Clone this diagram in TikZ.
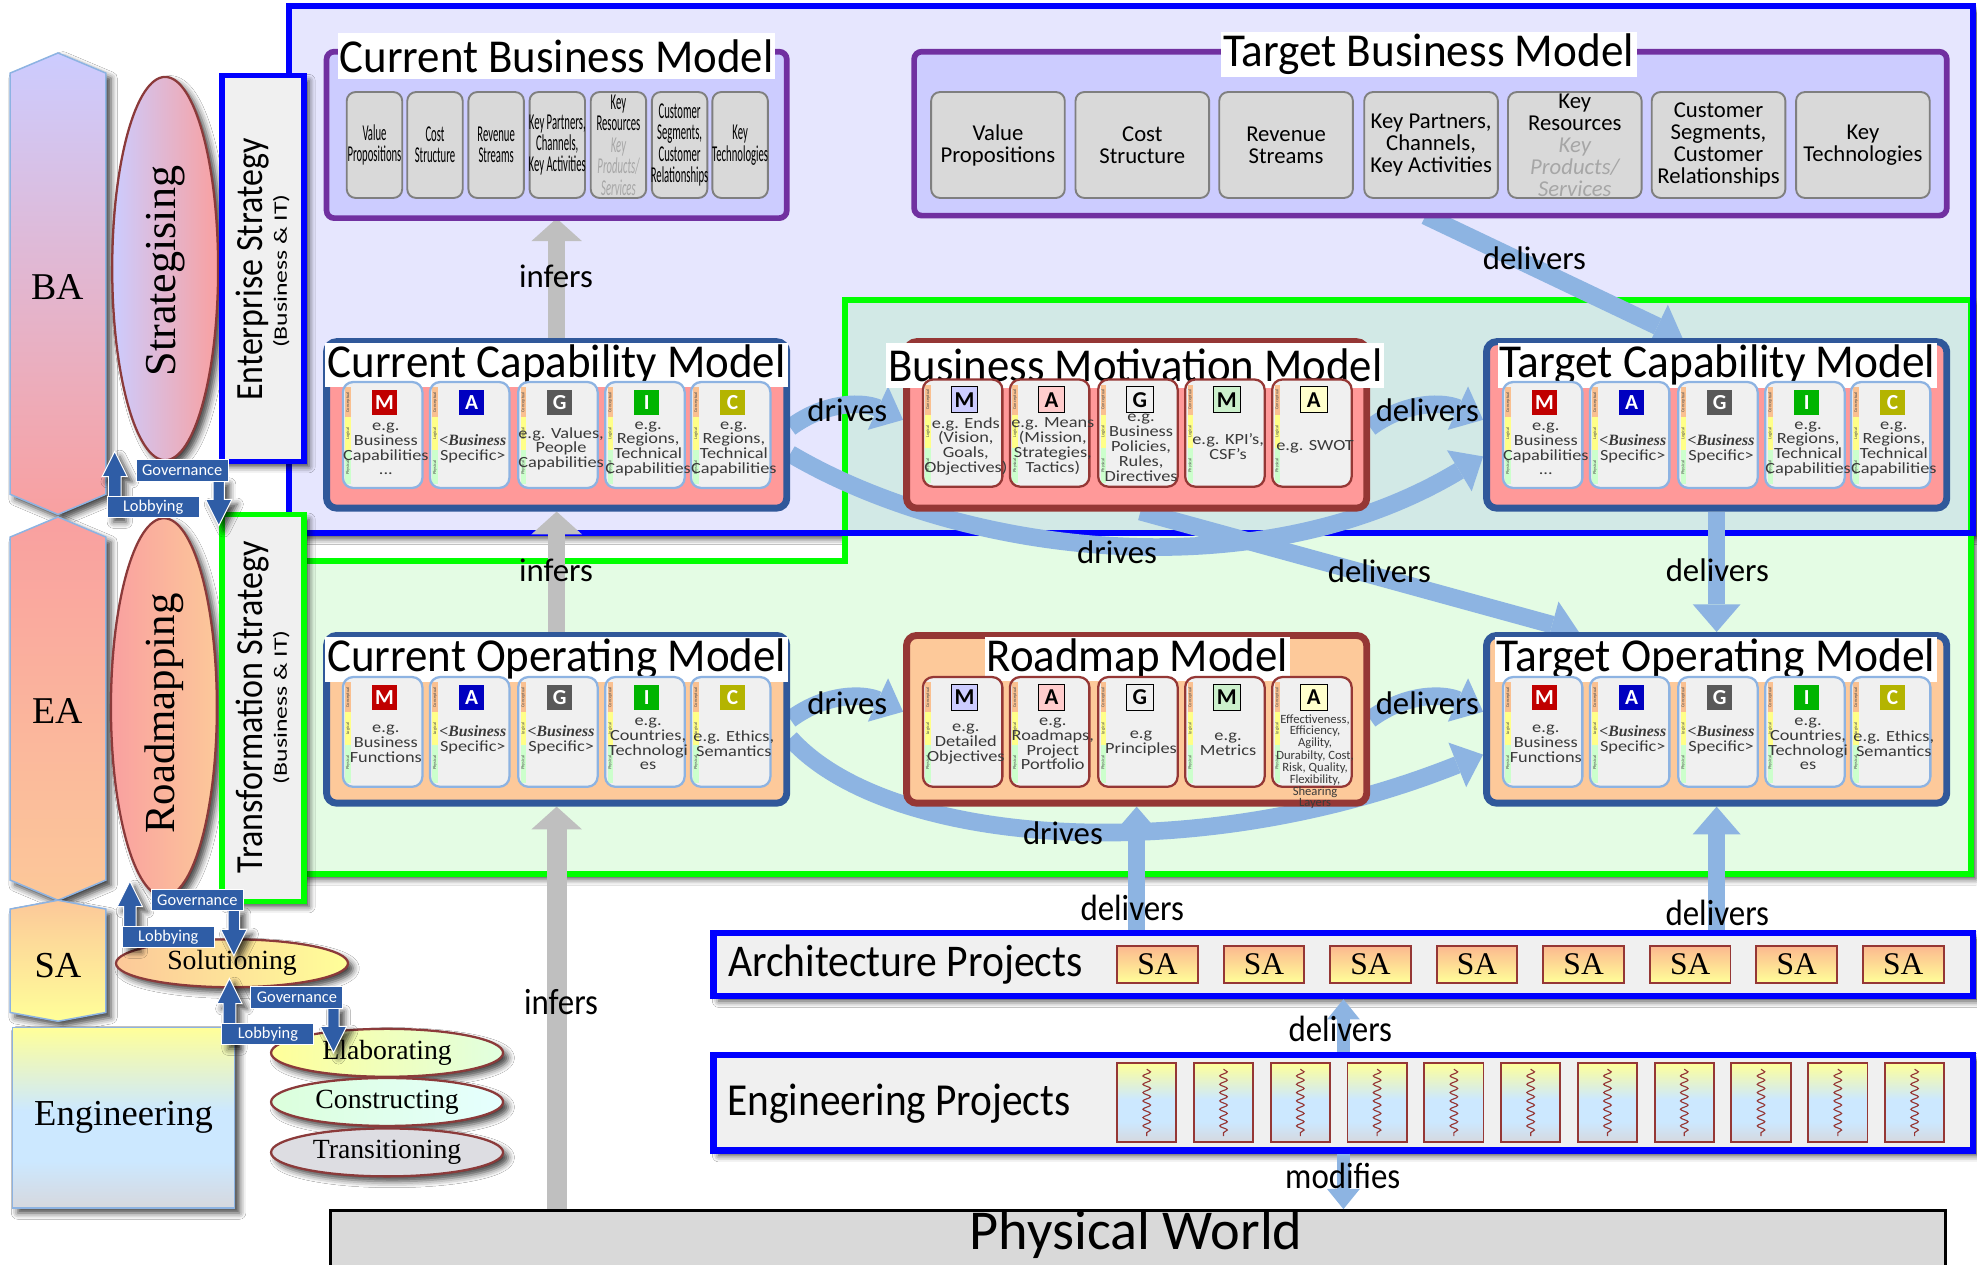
\documentclass[tikz,border=0pt]{standalone}
\usepackage{fontspec}
\usepackage{graphicx}
\setmainfont{Liberation Serif}
\newfontfamily\sansf{Carlito}
\newfontfamily\cardf[FakeStretch=1.18]{Carlito}
\newfontfamily\narrowf[FakeStretch=0.47]{Carlito}
\newfontfamily\labf[FakeStretch=0.9]{Carlito}
\usetikzlibrary{arrows.meta,shadows.blur,decorations.pathmorphing,shapes.geometric,calc}

\definecolor{lavBg}{HTML}{E6E6FE}
\definecolor{grnBg}{HTML}{E4FCE4}
\definecolor{mixBg}{HTML}{D2E9E6}
\definecolor{frameBlue}{HTML}{0000FF}
\definecolor{frameGreen}{HTML}{00FF00}
\definecolor{bmPurple}{HTML}{7030A0}
\definecolor{bmFill}{HTML}{CCCCFF}
\definecolor{navyEdge}{HTML}{30589A}
\definecolor{brownEdge}{HTML}{953735}
\definecolor{pinkFill}{HTML}{FF9999}
\definecolor{peachFill}{HTML}{FDC99A}
\definecolor{cardFill}{HTML}{F0F0F0}
\definecolor{cardEdge}{HTML}{8DB3E2}
\definecolor{arrowBlue}{HTML}{8DB4E2}
\definecolor{arrowGray}{HTML}{BFBFBF}
\definecolor{boxGray}{HTML}{D9D9D9}
\definecolor{boxEdge}{HTML}{7F7F7F}
\definecolor{govBlue}{HTML}{2F5DA6}
\definecolor{stripC}{HTML}{FAC090}
\definecolor{stripL}{HTML}{FFFF88}
\definecolor{stripP}{HTML}{CCFFCC}
\definecolor{badM}{HTML}{C00000}
\definecolor{badA}{HTML}{0000C0}
\definecolor{badG}{HTML}{595959}
\definecolor{badI}{HTML}{00B400}
\definecolor{badC}{HTML}{B4B400}
\definecolor{palM}{HTML}{CCCCFF}
\definecolor{palA}{HTML}{FFCCCC}
\definecolor{palG}{HTML}{F0F0F0}
\definecolor{palM2}{HTML}{CCF0CC}
\definecolor{palA2}{HTML}{FFFFCC}
\definecolor{txtGray}{HTML}{3A3A3A}
\definecolor{keyGray}{HTML}{A6A6A6}
\definecolor{lavL}{HTML}{CCCCFF}
\definecolor{pinkL}{HTML}{F9A0A0}
\definecolor{peachL}{HTML}{FCC899}
\definecolor{yelL}{HTML}{FFFF99}
\definecolor{engYellow}{HTML}{FFFF99}
\definecolor{engBlue}{HTML}{CCE8FF}
\definecolor{engGray}{HTML}{D6D8DE}
\definecolor{ellEdge}{HTML}{8B3A3A}
\definecolor{saTop}{HTML}{FCB98F}
\definecolor{saBot}{HTML}{FFFF99}

% yellow at the top, light blue lower down, grey at the bottom
\pgfdeclareverticalshading{engshade}{100bp}{color(0bp)=(engGray); color(25bp)=(engGray); color(38bp)=(engBlue); color(52bp)=(engBlue); color(75bp)=(engYellow); color(100bp)=(engYellow)}

\tikzset{
  softshadow/.style={blur shadow={shadow xshift=4pt, shadow yshift=-4pt, shadow blur radius=5pt, shadow opacity=75}},
  engfill/.style={shade, shading=engshade},
  hexedge/.style={draw=cardEdge, line width=1.2pt, softshadow},
  stratbox/.style={line width=4.5pt, fill=cardFill, inner sep=0pt, minimum width=65pt, softshadow},
  phase/.style={ellipse, draw=ellEdge, line width=1.8pt, inner sep=0pt, softshadow},
  govlabel/.style={fill=govBlue, draw=white, line width=0.8pt, text=white, minimum height=17pt, inner sep=0pt, font=\sansf\fontsize{13}{13}\selectfont},
  bmframe/.style={draw=bmPurple, line width=4.5pt, fill=bmFill, rounded corners=6pt, inner sep=0pt},
  modelframe/.style={line width=5.5pt, rounded corners=8pt, inner sep=0pt, minimum width=365pt},
  titlebox/.style={fill=white, inner sep=0pt},
  bmbox/.style={draw=boxEdge, line width=1.5pt, fill=boxGray, rounded corners=7pt, minimum height=84pt, inner sep=0pt},
  cbmtext/.style={align=center, inner sep=0pt, font=\narrowf\fontsize{18}{17}\selectfont},
  tbmtext/.style={align=center, inner sep=0pt, font=\sansf\fontsize{18}{17.5}\selectfont},
  solidbadge/.style={fill=#1, text=white, minimum size=20pt, inner sep=0pt, font=\sansf\bfseries\fontsize{17}{17}\selectfont},
  palebadge/.style={fill=#1, draw=black, line width=0.8pt, text=black, minimum size=21pt, inner sep=0pt, font=\sansf\bfseries\fontsize{18}{18}\selectfont},
  cardtext/.style={align=center, inner sep=0pt, text=txtGray, font=\cardf\fontsize{12.3}{11.8}\selectfont},
  tinytext/.style={align=center, inner sep=0pt, text=txtGray, font=\sansf\fontsize{10}{8}\selectfont},
  striptext/.style={rotate=90, inner sep=0pt, text=black!70, font=\sansf\fontsize{3.5}{3.5}\selectfont},
  projbox/.style={draw=frameBlue, line width=5pt, fill=cardFill, inner sep=0pt, softshadow},
  sabox/.style={draw=brownEdge, line width=1.5pt, top color=saTop, bottom color=saBot, minimum width=64pt, minimum height=29pt, inner sep=0pt, font=\fontsize{25}{25}\selectfont},
  arrowlabel/.style={inner sep=0pt, font=\sansf\fontsize{26}{26}\selectfont},
  lowlabel/.style={inner sep=0pt, font=\labf\fontsize{29}{29}\selectfont},
  bluearrow/.style={draw=arrowBlue, line width=14pt, -{Triangle[width=38pt,length=22pt,line width=0pt]}},
  thinblue/.style={draw=arrowBlue, line width=10pt, -{Triangle[width=26pt,length=16pt,line width=0pt]}},
  grayarrow/.style={draw=arrowGray, line width=14pt, -{Triangle[width=40pt,length=18pt,line width=0pt]}},
}

% one MAGIC card: name, x, y, height, edge colour, badge style, letter, text y, text
\newcommand\card[9]{%
  \begin{scope}[shift={(#2,#3)}]
    \fill[cardFill, rounded corners=8pt] (0,0) rectangle (63,#4);
    \fill[stripC] (2,4) rectangle (6,28);
    \fill[stripL] (2,28) rectangle (6,54);
    \fill[stripP] (2,54) rectangle (6,#4-3);
    \node[striptext] (#1c) at (4,16) {Conceptual};
    \node[striptext] (#1l) at (4,41) {Logical};
    \node[striptext] (#1p) at (4,68) {Physical};
    \draw[draw=#5, line width=1.8pt, rounded corners=8pt] (0,0) rectangle (63,#4);
    \node[cardtext] (#1t) at (34,#8) {#9};
    \node[#6] (#1b) at (33,16) {#7};
  \end{scope}}
\newcommand\bspec{\rmfamily\itshape\bfseries\fontsize{12.5}{13}\selectfont <Business\\Specific>}

% governance / lobbying double arrow, placed by the tip of its up arrow
\newcommand\govlob[3]{%
  \begin{scope}[shift={(#2,#3)}]
    \fill[govBlue, draw=white, line width=0.8pt, softshadow] (0,0) -- (10,20) -- (5,20) -- (5,52) -- (-5,52) -- (-5,20) -- (-10,20) -- cycle;
    \fill[govBlue, draw=white, line width=0.8pt, softshadow] (78,22) -- (87,22) -- (87,38) -- (93,38) -- (82.5,59) -- (72,38) -- (78,38) -- cycle;
    \node[govlabel, minimum width=73pt] (#1L) at (30.5,44) {Lobbying};
    \node[govlabel, minimum width=73pt] (#1G) at (53.5,15) {Governance};
  \end{scope}}

\begin{document}
\begin{tikzpicture}[x=1pt,y=-1pt]
\useasboundingbox (0,0) rectangle (1568,1003);
\fill[white] (0,0) rectangle (1568,1003);

% ---------- strategy (blue) and transformation (green) regions ----------
\fill[lavBg, softshadow] (229,5) rectangle (1565,423);
\fill[grnBg, softshadow] (670,238) -- (1563,238) -- (1563,693) -- (240,693) -- (240,445) -- (670,445) -- cycle;
\fill[mixBg] (670,238) rectangle (1563,423);
\draw[frameGreen, line width=5pt] (670,238) -- (1563,238) -- (1563,693) -- (240,693) -- (240,445) -- (670,445) -- cycle;
\draw[frameBlue, line width=5pt] (229,5) rectangle (1565,423);

% ---------- left column: disciplines ----------
\path[hexedge, top color=lavL, bottom color=pinkL] (8,58) -- (46,42) -- (84,58) -- (84,392) -- (46,408) -- (8,392) -- cycle;
\path[hexedge, top color=pinkL, bottom color=peachL] (8,426) -- (46,410) -- (84,426) -- (84,698) -- (46,714) -- (8,698) -- cycle;
\path[hexedge, top color=peachL, bottom color=yelL] (8,721) -- (46,714) -- (84,721) -- (84,803) -- (46,810) -- (8,803) -- cycle;
\path[hexedge, engfill] (10,815) rectangle (186,958);
\node (baT) at (46,228) {\fontsize{30}{30}\selectfont BA};
\node (eaT) at (46,564) {\fontsize{30}{30}\selectfont EA};
\node (saT) at (46,766) {\fontsize{29}{29}\selectfont SA};
\node (engL) at (98,886) {\fontsize{29}{29}\selectfont Engineering};

% phases
\node[phase, minimum width=84pt, minimum height=304pt, left color=lavL, right color=pinkL] (strat) at (131,213) {};
\node[rotate=90] (stratT) at (131,215) {\fontsize{35}{35}\selectfont Strategising};
\node[phase, minimum width=84pt, minimum height=300pt, left color=pinkL, right color=peachL] (road) at (130,561) {};
\node[rotate=90] (roadT) at (130,566) {\fontsize{34}{34}\selectfont Roadmapping};
\node[phase, minimum width=184pt, minimum height=38pt, left color=peachL, right color=yelL] (sol) at (184,764) {\fontsize{22}{22}\selectfont Solutioning};
\node[phase, minimum width=184pt, minimum height=38pt, left color=yelL, right color=green!12] (elab) at (307,835) {\fontsize{22}{22}\selectfont Elaborating};
\node[phase, minimum width=184pt, minimum height=38pt, left color=green!14, right color=cyan!10] (cons) at (307,874) {\fontsize{22}{22}\selectfont Constructing};
\node[phase, minimum width=184pt, minimum height=38pt, fill=blue!8!gray!25] (trans) at (307,914) {\fontsize{22}{22}\selectfont Transitioning};

% strategy boxes
\node[stratbox, draw=frameBlue, minimum height=306pt] (entS) at (208.5,213) {};
\node[rotate=90, inner sep=0pt] (entT1) at (200,214) {\resizebox{208pt}{21pt}{\sansf Enterprise Strategy}};
\node[rotate=90, inner sep=0pt] (entT2) at (223,215) {\resizebox{122pt}{11pt}{\sansf (Business \& IT)}};
\node[stratbox, draw=frameGreen, minimum height=307pt] (trS) at (208.5,561.5) {};
\node[rotate=90, inner sep=0pt] (trT1) at (200,561) {\resizebox{263pt}{21pt}{\sansf Transformation Strategy}};
\node[rotate=90, inner sep=0pt] (trT2) at (223,561) {\resizebox{122pt}{11pt}{\sansf (Business \& IT)}};

\govlob{glA}{91}{358}
\govlob{glB}{103}{699}
\govlob{glC}{182}{776}

% ---------- projects and physical world ----------
\node[projbox, minimum width=999pt, minimum height=50pt] (arch) at (1065.5,765) {};
\node[inner sep=0pt] (archT) at (718,765) {\resizebox{281pt}{25pt}{\sansf Architecture Projects}};
\foreach \i in {0,...,7} {
  \node[sabox] (sa\i) at ({918+84.5*\i},765) {SA};
}
\node[projbox, minimum width=999pt, minimum height=76pt] (eng) at (1065.5,874.5) {};
\node[inner sep=0pt] (engT) at (713,875) {\resizebox{272pt}{25pt}{\sansf Engineering Projects}};
\foreach \i in {0,...,10} {
  \path[engfill, draw=brownEdge, line width=1.5pt] ({886+60.9*\i},843) rectangle ++(47,63);
  \draw[brownEdge, line width=0.9pt, decorate, decoration={snake, amplitude=3pt, segment length=6.6pt}] ({909.5+60.9*\i},848) -- ++(0,53);
}
\node[draw=black, line width=2pt, fill=boxGray, minimum width=1281pt, minimum height=80pt, inner sep=0pt] (phys) at (902.5,1000) {};
\node[inner sep=0pt] (physT) at (901,979) {\resizebox{264pt}{31pt}{\sansf Physical World}};

% ---------- model outlines used as connector ends ----------
\node[modelframe, minimum height=132pt] (ccm) at (441.5,337) {};
\node[modelframe, minimum height=132pt] (bmm) at (901.5,337) {};
\node[modelframe, minimum height=132pt] (tcm) at (1361.5,337) {};
\node[modelframe, minimum height=133pt] (com) at (441.5,570.5) {};
\node[modelframe, minimum height=133pt] (rmm) at (901.5,570.5) {};
\node[modelframe, minimum height=133pt] (tom) at (1361.5,570.5) {};
\node[inner sep=2.25pt, minimum width=365pt, minimum height=132pt] (cbm) at (441.5,107) {};
\node[inner sep=2.25pt, minimum width=819pt, minimum height=130pt] (tbm) at (1134.5,106) {};

% ---------- connectors (under the model frames) ----------
\draw[bluearrow] ($(ccm.east)+(0,23)$) .. controls +(136,80) and +(-179,108) .. ($(tcm.west)+(0,25)$);
\draw[bluearrow] ($(bmm.south)+(3,0)$) -- ($(tom.north west)+(76,0)$);
\draw[bluearrow] ($(com.east)+(0,15)$) .. controls +(76,85) and +(-231,92) .. ($(tom.west)+(0,28)$);
\draw[bluearrow] ($(ccm.east)+(0,2)$) .. controls +(30,-22) and +(-30,-14) .. ($(bmm.west)+(0,-4)$);
\draw[bluearrow] ($(bmm.east)+(0,2)$) .. controls +(30,-22) and +(-30,-14) .. ($(tcm.west)+(0,-4)$);
\draw[bluearrow] ($(com.east)+(0,0)$) .. controls +(30,-22) and +(-30,-14) .. ($(rmm.west)+(0,-6)$);
\draw[bluearrow] ($(rmm.east)+(0,0)$) .. controls +(30,-22) and +(-30,-14) .. ($(tom.west)+(0,-6)$);
\draw[bluearrow] ($(tbm.south)+(-4,0)$) -- ($(tcm.north)+(-27,0)$);
\draw[bluearrow] (tcm.south) -- (tom.north);
\draw[bluearrow] (arch.north -| rmm.south) -- (rmm.south);
\draw[bluearrow] (arch.north -| tom.south) -- (tom.south);
\draw[thinblue] (eng.north) -- (arch.south);
\draw[thinblue] (eng.south) -- (phys.north -| eng.south);
\draw[grayarrow] (ccm.north) -- (cbm.south);
\draw[grayarrow] (com.north) -- (ccm.south);
\draw[grayarrow, line width=16pt] (phys.north -| com.south) -- (com.south);

% ---------- business models ----------
\node[bmframe, minimum width=365pt, minimum height=132pt] (cbmF) at (441.5,107) {};
\node[titlebox, minimum width=347pt, minimum height=37pt] (cbmT) at (441.5,44.5) {\resizebox{344pt}{26pt}{\sansf Current Business Model}};
\node[bmbox, minimum width=44pt] (cb1) at (297,115) {};
\node[bmbox, minimum width=44pt] (cb2) at (345,115) {};
\node[bmbox, minimum width=44pt] (cb3) at (393.5,115) {};
\node[bmbox, minimum width=44pt] (cb4) at (442,115) {};
\node[bmbox, minimum width=44pt] (cb5) at (490.5,115) {};
\node[bmbox, minimum width=44pt] (cb6) at (539,115) {};
\node[bmbox, minimum width=44pt] (cb7) at (587,115) {};
\node[cbmtext] (cb1t) at (cb1) {Value\\Propositions};
\node[cbmtext] (cb2t) at (cb2) {Cost\\Structure};
\node[cbmtext] (cb3t) at (cb3) {Revenue\\Streams};
\node[cbmtext] (cb4t) at (cb4) {Key Partners,\\Channels,\\Key Activities};
\node[cbmtext] (cb5t) at (cb5) {Key\\Resources\\\textcolor{keyGray}{\itshape Key}\\\textcolor{keyGray}{\itshape Products/}\\\textcolor{keyGray}{\itshape Services}};
\node[cbmtext] (cb6t) at (cb6) {Customer\\Segments,\\Customer\\Relationships};
\node[cbmtext] (cb7t) at (cb7) {Key\\Technologies};

\node[bmframe, minimum width=819pt, minimum height=130pt] (tbmF) at (1134.5,106) {};
\node[titlebox, minimum width=330pt, minimum height=36pt] (tbmT) at (1133,43) {\resizebox{326pt}{26pt}{\sansf Target Business Model}};
\node[bmbox, minimum width=106pt] (tb1) at (791.5,115) {};
\node[bmbox, minimum width=106pt] (tb2) at (906,115) {};
\node[bmbox, minimum width=106pt] (tb3) at (1020,115) {};
\node[bmbox, minimum width=106pt] (tb4) at (1135,115) {};
\node[bmbox, minimum width=106pt] (tb5) at (1249,115) {};
\node[bmbox, minimum width=106pt] (tb6) at (1363,115) {};
\node[bmbox, minimum width=106pt] (tb7) at (1477.5,115) {};
\node[tbmtext] (tb1t) at (tb1) {Value\\Propositions};
\node[tbmtext] (tb2t) at (tb2) {Cost\\Structure};
\node[tbmtext] (tb3t) at (tb3) {Revenue\\Streams};
\node[tbmtext] (tb4t) at (tb4) {Key Partners,\\Channels,\\Key Activities};
\node[tbmtext] (tb5t) at (tb5) {Key\\Resources\\\textcolor{keyGray}{\itshape Key}\\\textcolor{keyGray}{\itshape Products/}\\\textcolor{keyGray}{\itshape Services}};
\node[tbmtext] (tb6t) at (tb6) {Customer\\Segments,\\Customer\\Relationships};
\node[tbmtext] (tb7t) at (tb7) {Key\\Technologies};

% ---------- capability row ----------
\node[modelframe, draw=navyEdge, fill=pinkFill, minimum height=132pt] (ccmF) at (441.5,337) {};
\node[titlebox, minimum width=367pt, minimum height=35pt] (ccmT) at (441.5,289.5) {\resizebox{363pt}{26pt}{\sansf Current Capability Model}};
\card{ccm1}{272}{303}{84}{cardEdge}{solidbadge=badM}{M}{53}{e.g.\\Business\\Capabilities\\...}
\card{ccm2}{341}{303}{84}{cardEdge}{solidbadge=badA}{A}{53}{\bspec}
\card{ccm3}{411}{303}{84}{cardEdge}{solidbadge=badG}{G}{53}{e.g. Values,\\People\\Capabilities}
\card{ccm4}{480}{303}{84}{cardEdge}{solidbadge=badI}{I}{53}{e.g.\\Regions,\\Technical\\Capabilities}
\card{ccm5}{548}{303}{84}{cardEdge}{solidbadge=badC}{C}{53}{e.g.\\Regions,\\Technical\\Capabilities}

\node[modelframe, draw=brownEdge, fill=pinkFill, minimum height=132pt] (bmmF) at (901.5,337) {};
\node[titlebox, minimum width=395pt, minimum height=36pt] (bmmT) at (900.5,290) {\resizebox{392pt}{26pt}{\sansf Business Motivation Model}};
\card{bmm1}{732}{301}{85}{brownEdge}{palebadge=palM}{M}{53}{e.g. Ends\\(Vision,\\Goals,\\Objectives)}
\card{bmm2}{801}{301}{85}{brownEdge}{palebadge=palA}{A}{53}{e.g. Means\\(Mission,\\Strategies,\\Tactics)}
\card{bmm3}{871}{301}{85}{brownEdge}{palebadge=palG}{G}{54}{e.g.\\Business\\Policies,\\Rules,\\Directives}
\card{bmm4}{940}{301}{85}{brownEdge}{palebadge=palM2}{M}{53}{e.g. KPI’s,\\CSF’s}
\card{bmm5}{1009}{301}{85}{brownEdge}{palebadge=palA2}{A}{53}{e.g. SWOT}

\node[modelframe, draw=navyEdge, fill=pinkFill, minimum height=132pt] (tcmF) at (1361.5,337) {};
\node[titlebox, minimum width=348pt, minimum height=36pt] (tcmT) at (1362,290) {\resizebox{346pt}{26pt}{\sansf Target Capability Model}};
\card{tcm1}{1192}{303}{84}{cardEdge}{solidbadge=badM}{M}{53}{e.g.\\Business\\Capabilities\\...}
\card{tcm2}{1261}{303}{84}{cardEdge}{solidbadge=badA}{A}{53}{\bspec}
\card{tcm3}{1331}{303}{84}{cardEdge}{solidbadge=badG}{G}{53}{\bspec}
\card{tcm4}{1400}{303}{84}{cardEdge}{solidbadge=badI}{I}{53}{e.g.\\Regions,\\Technical\\Capabilities}
\card{tcm5}{1468}{303}{84}{cardEdge}{solidbadge=badC}{C}{53}{e.g.\\Regions,\\Technical\\Capabilities}

% ---------- operating row ----------
\node[modelframe, draw=navyEdge, fill=peachFill, minimum height=133pt] (comF) at (441.5,570.5) {};
\node[titlebox, minimum width=367pt, minimum height=36pt] (comT) at (441.5,523) {\resizebox{364pt}{26pt}{\sansf Current Operating Model}};
\card{com1}{272}{537}{87}{cardEdge}{solidbadge=badM}{M}{53}{e.g.\\Business\\Functions}
\card{com2}{341}{537}{87}{cardEdge}{solidbadge=badA}{A}{50}{\bspec}
\card{com3}{411}{537}{87}{cardEdge}{solidbadge=badG}{G}{50}{\bspec}
\card{com4}{480}{537}{87}{cardEdge}{solidbadge=badI}{I}{53}{e.g.\\Countries,\\Technologi\\es}
\card{com5}{548}{537}{87}{cardEdge}{solidbadge=badC}{C}{53}{e.g. Ethics,\\Semantics}

\node[modelframe, draw=brownEdge, fill=peachFill, minimum height=133pt] (rmmF) at (901.5,570.5) {};
\node[titlebox, minimum width=242pt, minimum height=35pt] (rmmT) at (902,522.5) {\resizebox{239pt}{26pt}{\sansf Roadmap Model}};
\card{rmm1}{732}{537}{87}{brownEdge}{palebadge=palM}{M}{53}{e.g.\\Detailed\\Objectives}
\card{rmm2}{801}{537}{87}{brownEdge}{palebadge=palA}{A}{53}{e.g.\\Roadmaps,\\Project\\Portfolio}
\card{rmm3}{871}{537}{87}{brownEdge}{palebadge=palG}{G}{53}{e.g\\Principles}
\card{rmm4}{940}{537}{87}{brownEdge}{palebadge=palM2}{M}{53}{e.g.\\Metrics}
\card{rmm5}{1009}{537}{87}{brownEdge}{palebadge=palA2}{A}{53}{}
\node[tinytext, anchor=north] (rmm5x) at (1043,566.5) {Effectiveness,\\Efficiency,\\Agility,\\Durabilty, Cost,\\Risk, Quality,\\Flexibility,\\Shearing\\Layers};

\node[modelframe, draw=navyEdge, fill=peachFill, minimum height=133pt] (tomF) at (1361.5,570.5) {};
\node[titlebox, minimum width=350pt, minimum height=36pt] (tomT) at (1361,523) {\resizebox{348pt}{26pt}{\sansf Target Operating Model}};
\card{tom1}{1192}{537}{87}{cardEdge}{solidbadge=badM}{M}{53}{e.g.\\Business\\Functions}
\card{tom2}{1261}{537}{87}{cardEdge}{solidbadge=badA}{A}{50}{\bspec}
\card{tom3}{1331}{537}{87}{cardEdge}{solidbadge=badG}{G}{50}{\bspec}
\card{tom4}{1400}{537}{87}{cardEdge}{solidbadge=badI}{I}{53}{e.g.\\Countries,\\Technologi\\es}
\card{tom5}{1468}{537}{87}{cardEdge}{solidbadge=badC}{C}{53}{e.g. Ethics,\\Semantics}

% ---------- connector labels ----------
\node[arrowlabel] (lInf1) at (441,219) {infers};
\node[arrowlabel] (lInf2) at (441,452) {infers};
\node[lowlabel] (lInf3) at (445,795) {infers};
\node[arrowlabel] (lDrv1) at (672,325) {drives};
\node[arrowlabel] (lDel1) at (1132,325) {delivers};
\node[arrowlabel] (lDel0) at (1217,205) {delivers};
\node[arrowlabel] (lDrv2) at (886,438) {drives};
\node[arrowlabel] (lDel2) at (1094,453) {delivers};
\node[arrowlabel] (lDel3) at (1362,452) {delivers};
\node[arrowlabel] (lDrv3) at (672,558) {drives};
\node[arrowlabel] (lDel4) at (1132,558) {delivers};
\node[arrowlabel] (lDrv4) at (843,661) {drives};
\node[lowlabel] (lDel5) at (898,720) {delivers};
\node[lowlabel] (lDel6) at (1362,724) {delivers};
\node[lowlabel] (lDel7) at (1063,816) {delivers};
\node[lowlabel] (lMod) at (1065,933) {modifies};
\end{tikzpicture}
\end{document}
